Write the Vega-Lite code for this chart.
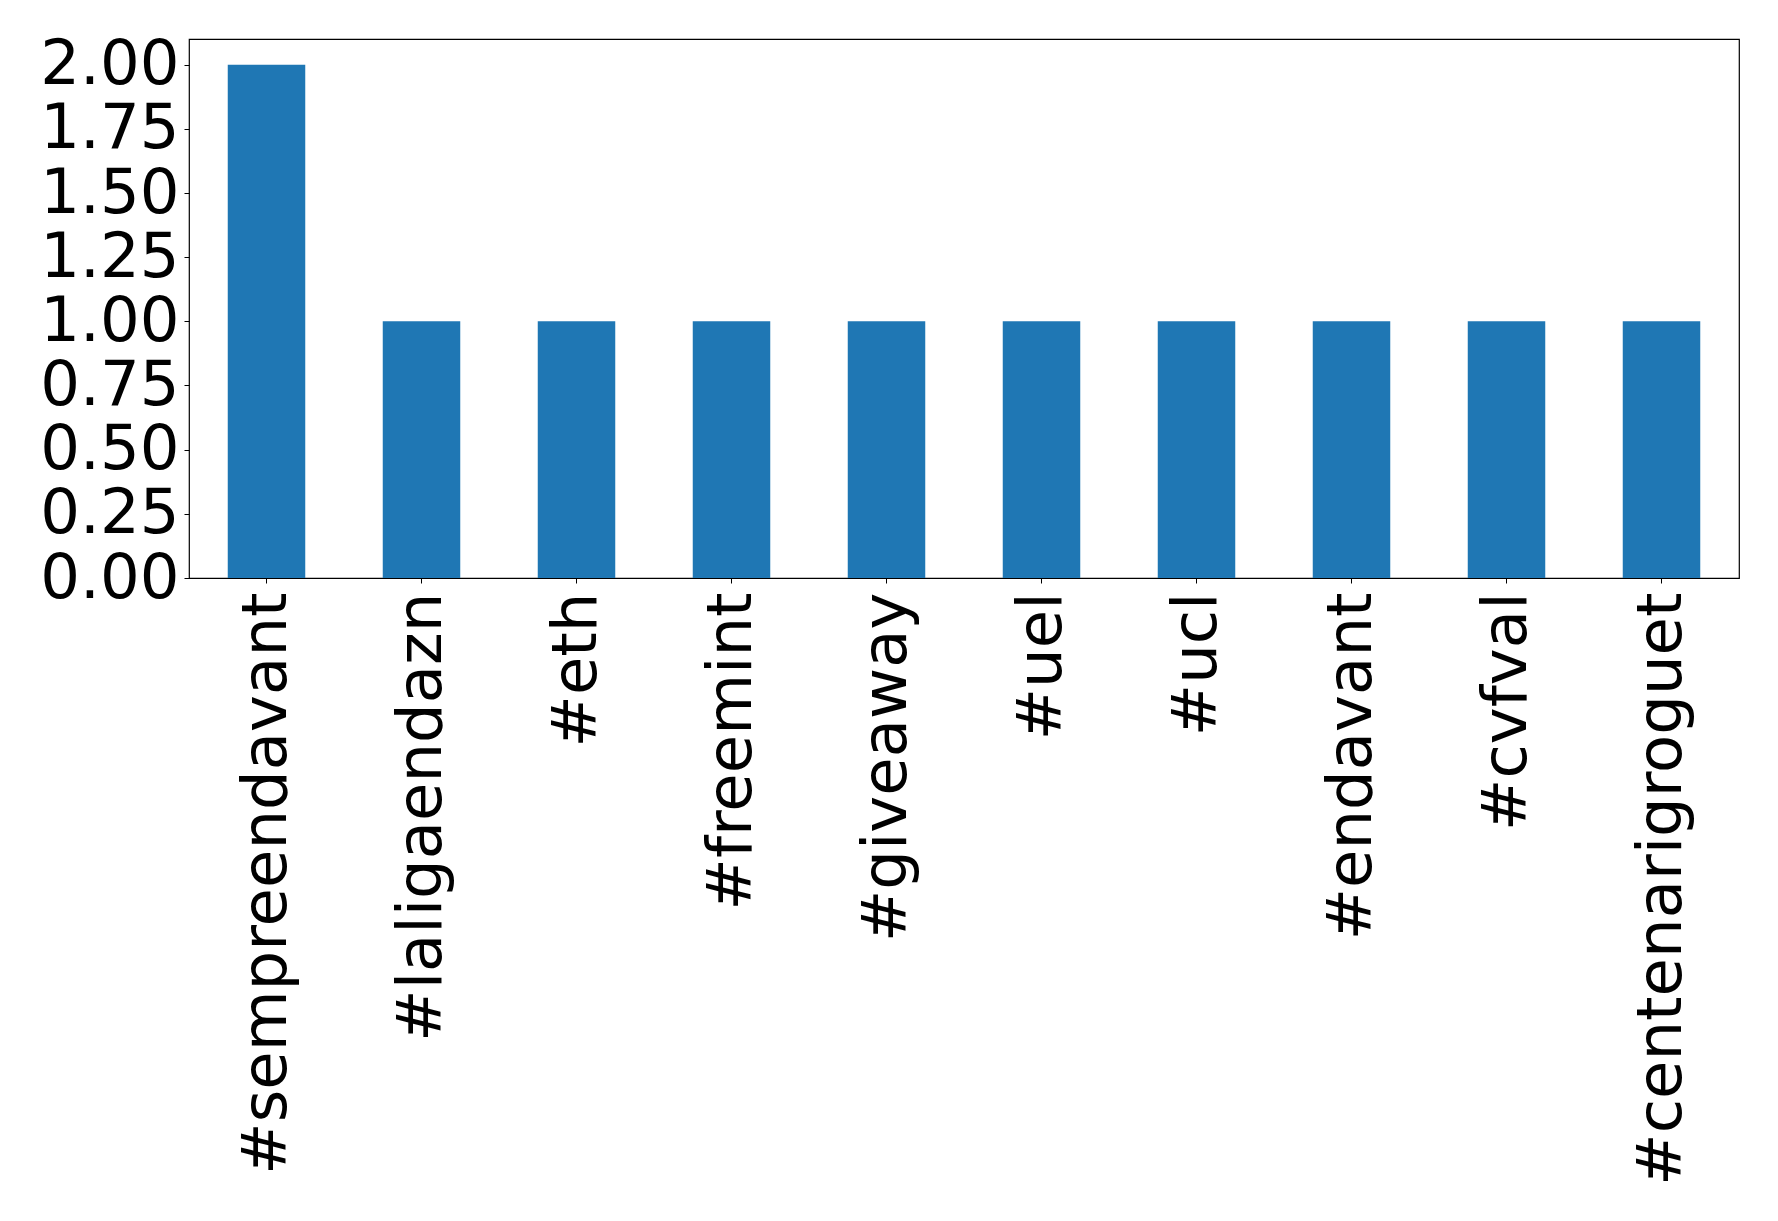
{
  "$schema": "https://vega.github.io/schema/vega-lite/v6.json",
  "autosize": {"type": "none"},
  "padding": {"left": 189, "top": 39, "right": 39, "bottom": 643},
  "width": 1550,
  "height": 539,
  "background": "white",
  "config": {
    "view": {"stroke": "black", "strokeWidth": 1.2},
    "font": "DejaVu Sans",
    "axis": {
      "labelFont": "DejaVu Sans",
      "labelFontSize": 62.5,
      "labelColor": "black",
      "domainColor": "black",
      "tickColor": "black",
      "tickSize": 5,
      "tickWidth": 1,
      "grid": false,
      "title": null
    }
  },
  "data": {
    "values": [
      {"hashtag": "#sempreendavant", "count": 2},
      {"hashtag": "#laligaendazn", "count": 1},
      {"hashtag": "#eth", "count": 1},
      {"hashtag": "#freemint", "count": 1},
      {"hashtag": "#giveaway", "count": 1},
      {"hashtag": "#uel", "count": 1},
      {"hashtag": "#ucl", "count": 1},
      {"hashtag": "#endavant", "count": 1},
      {"hashtag": "#cvfval", "count": 1},
      {"hashtag": "#centenarigroguet", "count": 1}
    ]
  },
  "mark": {"type": "bar", "color": "#1f77b4"},
  "encoding": {
    "x": {
      "field": "hashtag",
      "type": "nominal",
      "sort": null,
      "scale": {"paddingInner": 0.5, "paddingOuter": 0.25},
      "axis": {
        "labelAngle": -90,
        "labelAlign": "right",
        "labelBaseline": "middle",
        "labelPadding": 9,
        "labelOverlap": false,
        "labelLimit": 1000,
        "domain": false
      }
    },
    "y": {
      "field": "count",
      "type": "quantitative",
      "scale": {"domain": [0, 2.1], "nice": false},
      "axis": {
        "values": [0, 0.25, 0.5, 0.75, 1.0, 1.25, 1.5, 1.75, 2.0],
        "format": ".2f",
        "labelPadding": 5,
        "domain": false,
        "labelBaseline": "middle"
      }
    }
  }
}
